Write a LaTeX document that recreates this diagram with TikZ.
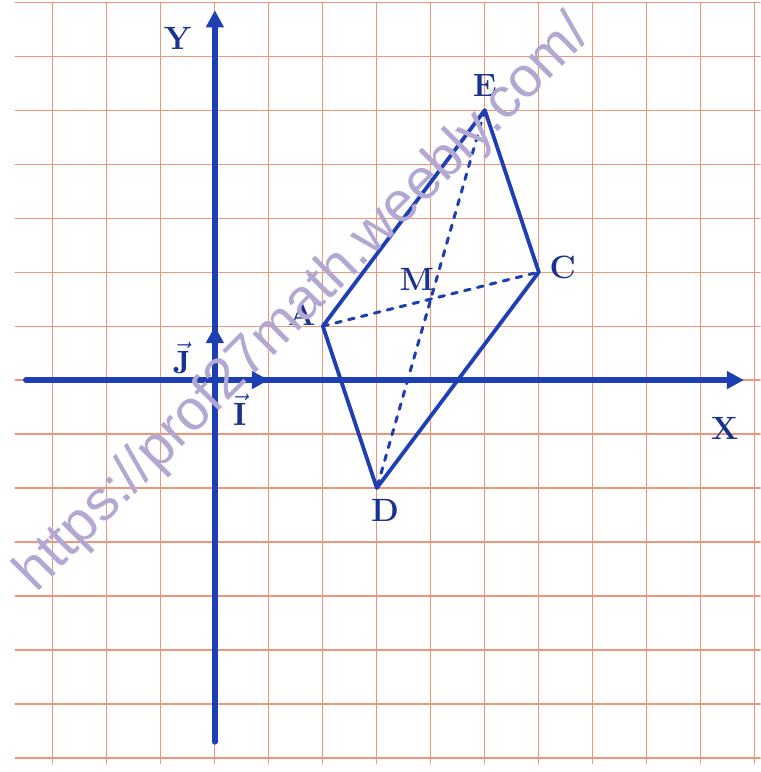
\documentclass[tikz,border=0pt]{standalone}
\usepackage{fontspec}
\newfontfamily\wmfont{Liberation Sans}
\usetikzlibrary{arrows.meta}
\definecolor{gridred}{RGB}{240,150,120}
\definecolor{inkblue}{RGB}{30,62,180}
\definecolor{wmlilac}{RGB}{178,168,210}
\tikzset{
	axe/.style={inkblue, line width=3pt, -{Triangle[length=9pt,width=9pt]}},
	cote/.style={inkblue, line width=2pt},
	diag/.style={inkblue, line width=1.6pt, dash pattern=on 3pt off 4pt},
	lbl/.style={inkblue!80!black, font=\fontsize{17}{20}\selectfont\bfseries}
}
\begin{document}
\begin{tikzpicture}[line join=round, line cap=round]
		\useasboundingbox (-3.98,-7.26) rectangle (10.11,7.04);
		\path 	(0,0) coordinate (O)
		(2,1) coordinate (A)
		(5,5) coordinate (E)
		(6,2) coordinate (C)
		(3,-2) coordinate (D)
		(4,1.5) coordinate (M)
		(1,0) coordinate (I)
		(0,1) coordinate (J)
		(-3.5,0) coordinate (Xg)
		(9.8,0) coordinate (Xd)
		(0,-6.7) coordinate (Yb)
		(0,6.85) coordinate (Yh);
		% quadrillage
		\foreach \x in {-3,...,10}
		\draw[gridred, line width=0.6pt] (\x,-7.1) -- (\x,7);
		\foreach \y in {-7,...,7}
		\draw[gridred, line width=0.6pt] (-3.7,\y) -- (10.1,\y);
		% axes et vecteurs unitaires
		\draw[axe] (Xg) -- (Xd);
		\draw[axe] (Yb) -- (Yh);
		\draw[axe] (O) -- (I);
		\draw[axe] (O) -- (J);
		% parallelogramme et diagonales
		\draw[cote] (A) -- (E) -- (C) -- (D) -- cycle;
		\draw[diag] (A) -- (C) (E) -- (D);
		\foreach \p/\g/\t in {A/150/A,E/90/E,C/10/C,D/-70/D,M/125/M}
		\path (\p) + (\g:0.45) node[lbl] (l\p) {\t};
		\draw (-0.69,6.33) node[lbl] (lY) {Y}
		(9.44,-0.89) node[lbl] (lX) {X}
		(-0.61,0.41) node[lbl] (lJ) {$\vec{\mathbf{J}}$}
		(0.46,-0.56) node[lbl] (lI) {$\vec{\mathbf{I}}$}
		;
		\node[wmlilac, rotate=45, font=\wmfont\fontsize{30}{31}\selectfont] (wm) at (1.65,1.4) {https://prof27math.weebly.com/};
	\end{tikzpicture}
\end{document}
